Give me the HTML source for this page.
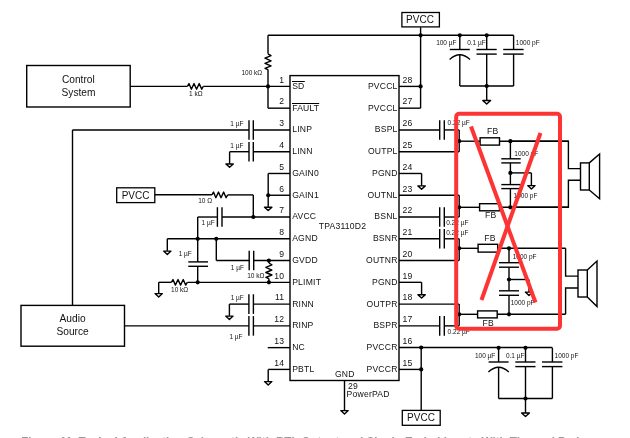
<!DOCTYPE html>
<html><head><meta charset="utf-8"><title>TPA3110D2 schematic</title>
<style>
html,body{margin:0;padding:0;background:#fff;}
body{width:630px;height:438px;overflow:hidden;}
svg{display:block;font-family:"Liberation Sans",sans-serif;will-change:transform;}
</style></head><body>
<svg width="630" height="438" viewBox="0 0 630 438">
<rect x="0" y="0" width="630" height="438" fill="#fff"/>
<rect x="290" y="75.6" width="109" height="304.9" fill="none" stroke="#000" stroke-width="1.4"/>
<text x="292.2" y="88.8" font-size="8.6" text-anchor="start" fill="#111"  letter-spacing="0.2"><tspan>SD</tspan></text>
<text x="284.3" y="82.7" font-size="8.6" text-anchor="end" fill="#111"  letter-spacing="0.2">1</text>
<text x="292.2" y="110.57" font-size="8.6" text-anchor="start" fill="#111"  letter-spacing="0.2">FAULT</text>
<text x="284.3" y="104.47" font-size="8.6" text-anchor="end" fill="#111"  letter-spacing="0.2">2</text>
<text x="292.2" y="132.34" font-size="8.6" text-anchor="start" fill="#111"  letter-spacing="0.2">LINP</text>
<text x="284.3" y="126.24" font-size="8.6" text-anchor="end" fill="#111"  letter-spacing="0.2">3</text>
<text x="292.2" y="154.11" font-size="8.6" text-anchor="start" fill="#111"  letter-spacing="0.2">LINN</text>
<text x="284.3" y="148.01" font-size="8.6" text-anchor="end" fill="#111"  letter-spacing="0.2">4</text>
<text x="292.2" y="175.88" font-size="8.6" text-anchor="start" fill="#111"  letter-spacing="0.2">GAIN0</text>
<text x="284.3" y="169.78" font-size="8.6" text-anchor="end" fill="#111"  letter-spacing="0.2">5</text>
<text x="292.2" y="197.65" font-size="8.6" text-anchor="start" fill="#111"  letter-spacing="0.2">GAIN1</text>
<text x="284.3" y="191.55" font-size="8.6" text-anchor="end" fill="#111"  letter-spacing="0.2">6</text>
<text x="292.2" y="219.42" font-size="8.6" text-anchor="start" fill="#111"  letter-spacing="0.2">AVCC</text>
<text x="284.3" y="213.32" font-size="8.6" text-anchor="end" fill="#111"  letter-spacing="0.2">7</text>
<text x="292.2" y="241.19" font-size="8.6" text-anchor="start" fill="#111"  letter-spacing="0.2">AGND</text>
<text x="284.3" y="235.09" font-size="8.6" text-anchor="end" fill="#111"  letter-spacing="0.2">8</text>
<text x="292.2" y="262.96" font-size="8.6" text-anchor="start" fill="#111"  letter-spacing="0.2">GVDD</text>
<text x="284.3" y="256.86" font-size="8.6" text-anchor="end" fill="#111"  letter-spacing="0.2">9</text>
<text x="292.2" y="284.73" font-size="8.6" text-anchor="start" fill="#111"  letter-spacing="0.2">PLIMIT</text>
<text x="284.3" y="278.63" font-size="8.6" text-anchor="end" fill="#111"  letter-spacing="0.2">10</text>
<text x="292.2" y="306.5" font-size="8.6" text-anchor="start" fill="#111"  letter-spacing="0.2">RINN</text>
<text x="284.3" y="300.4" font-size="8.6" text-anchor="end" fill="#111"  letter-spacing="0.2">11</text>
<text x="292.2" y="328.27" font-size="8.6" text-anchor="start" fill="#111"  letter-spacing="0.2">RINP</text>
<text x="284.3" y="322.17" font-size="8.6" text-anchor="end" fill="#111"  letter-spacing="0.2">12</text>
<text x="292.2" y="350.04" font-size="8.6" text-anchor="start" fill="#111"  letter-spacing="0.2">NC</text>
<text x="284.3" y="343.94" font-size="8.6" text-anchor="end" fill="#111"  letter-spacing="0.2">13</text>
<text x="292.2" y="371.81" font-size="8.6" text-anchor="start" fill="#111"  letter-spacing="0.2">PBTL</text>
<text x="284.3" y="365.71" font-size="8.6" text-anchor="end" fill="#111"  letter-spacing="0.2">14</text>
<text x="397.6" y="88.8" font-size="8.6" text-anchor="end" fill="#111"  letter-spacing="0.2">PVCCL</text>
<text x="402.6" y="82.7" font-size="8.6" text-anchor="start" fill="#111"  letter-spacing="0.2">28</text>
<text x="397.6" y="110.57" font-size="8.6" text-anchor="end" fill="#111"  letter-spacing="0.2">PVCCL</text>
<text x="402.6" y="104.47" font-size="8.6" text-anchor="start" fill="#111"  letter-spacing="0.2">27</text>
<text x="397.6" y="132.34" font-size="8.6" text-anchor="end" fill="#111"  letter-spacing="0.2">BSPL</text>
<text x="402.6" y="126.24" font-size="8.6" text-anchor="start" fill="#111"  letter-spacing="0.2">26</text>
<text x="397.6" y="154.11" font-size="8.6" text-anchor="end" fill="#111"  letter-spacing="0.2">OUTPL</text>
<text x="402.6" y="148.01" font-size="8.6" text-anchor="start" fill="#111"  letter-spacing="0.2">25</text>
<text x="397.6" y="175.88" font-size="8.6" text-anchor="end" fill="#111"  letter-spacing="0.2">PGND</text>
<text x="402.6" y="169.78" font-size="8.6" text-anchor="start" fill="#111"  letter-spacing="0.2">24</text>
<text x="397.6" y="197.65" font-size="8.6" text-anchor="end" fill="#111"  letter-spacing="0.2">OUTNL</text>
<text x="402.6" y="191.55" font-size="8.6" text-anchor="start" fill="#111"  letter-spacing="0.2">23</text>
<text x="397.6" y="219.42" font-size="8.6" text-anchor="end" fill="#111"  letter-spacing="0.2">BSNL</text>
<text x="402.6" y="213.32" font-size="8.6" text-anchor="start" fill="#111"  letter-spacing="0.2">22</text>
<text x="397.6" y="241.19" font-size="8.6" text-anchor="end" fill="#111"  letter-spacing="0.2">BSNR</text>
<text x="402.6" y="235.09" font-size="8.6" text-anchor="start" fill="#111"  letter-spacing="0.2">21</text>
<text x="397.6" y="262.96" font-size="8.6" text-anchor="end" fill="#111"  letter-spacing="0.2">OUTNR</text>
<text x="402.6" y="256.86" font-size="8.6" text-anchor="start" fill="#111"  letter-spacing="0.2">20</text>
<text x="397.6" y="284.73" font-size="8.6" text-anchor="end" fill="#111"  letter-spacing="0.2">PGND</text>
<text x="402.6" y="278.63" font-size="8.6" text-anchor="start" fill="#111"  letter-spacing="0.2">19</text>
<text x="397.6" y="306.5" font-size="8.6" text-anchor="end" fill="#111"  letter-spacing="0.2">OUTPR</text>
<text x="402.6" y="300.4" font-size="8.6" text-anchor="start" fill="#111"  letter-spacing="0.2">18</text>
<text x="397.6" y="328.27" font-size="8.6" text-anchor="end" fill="#111"  letter-spacing="0.2">BSPR</text>
<text x="402.6" y="322.17" font-size="8.6" text-anchor="start" fill="#111"  letter-spacing="0.2">17</text>
<text x="397.6" y="350.04" font-size="8.6" text-anchor="end" fill="#111"  letter-spacing="0.2">PVCCR</text>
<text x="402.6" y="343.94" font-size="8.6" text-anchor="start" fill="#111"  letter-spacing="0.2">16</text>
<text x="397.6" y="371.81" font-size="8.6" text-anchor="end" fill="#111"  letter-spacing="0.2">PVCCR</text>
<text x="402.6" y="365.71" font-size="8.6" text-anchor="start" fill="#111"  letter-spacing="0.2">15</text>
<line x1="292" y1="81.5" x2="304.8" y2="81.5" stroke="#000" stroke-width="1.0"/>
<line x1="292" y1="103.5" x2="319.2" y2="103.5" stroke="#000" stroke-width="1.0"/>
<text x="342.5" y="229.2" font-size="8.6" text-anchor="middle" fill="#111"  letter-spacing="0.2">TPA3110D2</text>
<text x="344.8" y="377" font-size="8.6" text-anchor="middle" fill="#111"  letter-spacing="0.2">GND</text>
<text x="348" y="389.2" font-size="8.6" text-anchor="start" fill="#111"  letter-spacing="0.2">29</text>
<text x="346.6" y="397.3" font-size="8.6" text-anchor="start" fill="#111"  letter-spacing="0.2">PowerPAD</text>
<rect x="26.7" y="65.5" width="103.5" height="41.5" fill="none" stroke="#000" stroke-width="1.4"/>
<text x="78.3" y="82.9" font-size="10.2" text-anchor="middle" fill="#111" >Control</text>
<text x="78.5" y="96.4" font-size="10.2" text-anchor="middle" fill="#111" >System</text>
<rect x="21" y="305.4" width="103.5" height="40.8" fill="none" stroke="#000" stroke-width="1.4"/>
<text x="72.6" y="321.8" font-size="10.2" text-anchor="middle" fill="#111" >Audio</text>
<text x="72.6" y="334.6" font-size="10.2" text-anchor="middle" fill="#111" >Source</text>
<rect x="401.9" y="12.5" width="37.5" height="14.4" fill="none" stroke="#000" stroke-width="1.3"/>
<text x="420" y="23" font-size="10.0" text-anchor="middle" fill="#111" >PVCC</text>
<rect x="116.7" y="187.8" width="38.1" height="14.8" fill="none" stroke="#000" stroke-width="1.3"/>
<text x="135.6" y="199.1" font-size="10.0" text-anchor="middle" fill="#111" >PVCC</text>
<rect x="402.3" y="410.4" width="37.9" height="14.9" fill="none" stroke="#000" stroke-width="1.3"/>
<text x="421" y="420.9" font-size="10.0" text-anchor="middle" fill="#111" >PVCC</text>
<line x1="130.3" y1="86.4" x2="187.4" y2="86.4" stroke="#000" stroke-width="1.4"/>
<polyline points="187.4,86.4 188.99,83.6 191.38,89.2 194.01,83.6 196.56,89.2 199.21,83.6 201.71,89.2 203.3,86.4" fill="none" stroke="#000" stroke-width="1.4" stroke-linejoin="round"/>
<line x1="203.3" y1="86.4" x2="290" y2="86.4" stroke="#000" stroke-width="1.4"/>
<text x="195.8" y="95.6" font-size="6.5" text-anchor="middle" fill="#111" >1 kΩ</text>
<circle cx="268" cy="86.4" r="2.1" fill="#000"/>
<line x1="268" y1="35.3" x2="268" y2="53.8" stroke="#000" stroke-width="1.4"/>
<polyline points="268,53.8 271,55.7 265,58.22 271,60.91 265,63.44 271,65.97 265,68.34 268,69.6" fill="none" stroke="#000" stroke-width="1.4" stroke-linejoin="round"/>
<line x1="268" y1="69.6" x2="268" y2="108.17" stroke="#000" stroke-width="1.4"/>
<text x="262.2" y="75.2" font-size="6.5" text-anchor="end" fill="#111" >100 kΩ</text>
<line x1="268" y1="108.17" x2="290" y2="108.17" stroke="#000" stroke-width="1.4"/>
<line x1="268" y1="35.3" x2="513.6" y2="35.3" stroke="#000" stroke-width="1.4"/>
<line x1="72.5" y1="129.94" x2="249" y2="129.94" stroke="#000" stroke-width="1.4"/>
<line x1="249" y1="120.14" x2="249" y2="139.74" stroke="#000" stroke-width="1.4"/>
<line x1="253.3" y1="120.14" x2="253.3" y2="139.74" stroke="#000" stroke-width="1.4"/>
<line x1="253.3" y1="129.94" x2="290" y2="129.94" stroke="#000" stroke-width="1.4"/>
<line x1="72.5" y1="129.94" x2="72.5" y2="305.4" stroke="#000" stroke-width="1.4"/>
<text x="230.3" y="125.8" font-size="6.5" text-anchor="start" fill="#111" >1 µF</text>
<line x1="229.6" y1="151.71" x2="249" y2="151.71" stroke="#000" stroke-width="1.4"/>
<line x1="249" y1="141.91" x2="249" y2="161.51" stroke="#000" stroke-width="1.4"/>
<line x1="253.3" y1="141.91" x2="253.3" y2="161.51" stroke="#000" stroke-width="1.4"/>
<line x1="253.3" y1="151.71" x2="290" y2="151.71" stroke="#000" stroke-width="1.4"/>
<line x1="229.6" y1="151.71" x2="229.6" y2="163.4" stroke="#000" stroke-width="1.4"/>
<line x1="229.6" y1="163.2" x2="229.6" y2="164" stroke="#000" stroke-width="1.4"/>
<polygon points="225.9,164 233.3,164 229.6,167.3" fill="none" stroke="#000" stroke-width="1.4" stroke-linejoin="round"/>
<text x="230.3" y="147.6" font-size="6.5" text-anchor="start" fill="#111" >1 µF</text>
<line x1="268.2" y1="173.48" x2="290" y2="173.48" stroke="#000" stroke-width="1.4"/>
<line x1="268.2" y1="195.25" x2="290" y2="195.25" stroke="#000" stroke-width="1.4"/>
<line x1="268.2" y1="173.48" x2="268.2" y2="206.6" stroke="#000" stroke-width="1.4"/>
<circle cx="268.2" cy="195.25" r="2.1" fill="#000"/>
<line x1="268.2" y1="206.4" x2="268.2" y2="207.2" stroke="#000" stroke-width="1.4"/>
<polygon points="264.5,207.2 271.9,207.2 268.2,210.5" fill="none" stroke="#000" stroke-width="1.4" stroke-linejoin="round"/>
<line x1="154.8" y1="194.8" x2="211.9" y2="194.8" stroke="#000" stroke-width="1.4"/>
<polyline points="211.9,194.9 213.48,192.1 215.85,197.7 218.47,192.1 221,197.7 223.64,192.1 226.12,197.7 227.7,194.9" fill="none" stroke="#000" stroke-width="1.4" stroke-linejoin="round"/>
<line x1="227.7" y1="194.9" x2="253.3" y2="194.9" stroke="#000" stroke-width="1.4"/>
<line x1="253.3" y1="194.9" x2="253.3" y2="217.02" stroke="#000" stroke-width="1.4"/>
<text x="198.2" y="202.8" font-size="6.5" text-anchor="start" fill="#111" >10 Ω</text>
<line x1="197.7" y1="217.02" x2="217.4" y2="217.02" stroke="#000" stroke-width="1.4"/>
<line x1="217.4" y1="207.22" x2="217.4" y2="226.82" stroke="#000" stroke-width="1.4"/>
<line x1="222" y1="207.22" x2="222" y2="226.82" stroke="#000" stroke-width="1.4"/>
<line x1="222" y1="217.02" x2="290" y2="217.02" stroke="#000" stroke-width="1.4"/>
<circle cx="253.3" cy="217.02" r="2.1" fill="#000"/>
<text x="201.6" y="225" font-size="6.5" text-anchor="start" fill="#111" >1 µF</text>
<line x1="197.7" y1="217.02" x2="197.7" y2="238.79" stroke="#000" stroke-width="1.4"/>
<line x1="167.3" y1="238.79" x2="290" y2="238.79" stroke="#000" stroke-width="1.4"/>
<line x1="167.3" y1="238.79" x2="167.3" y2="250.5" stroke="#000" stroke-width="1.4"/>
<line x1="167.3" y1="250.3" x2="167.3" y2="251.1" stroke="#000" stroke-width="1.4"/>
<polygon points="163.6,251.1 171,251.1 167.3,254.4" fill="none" stroke="#000" stroke-width="1.4" stroke-linejoin="round"/>
<circle cx="197.7" cy="238.79" r="2.1" fill="#000"/>
<circle cx="216.3" cy="238.79" r="2.1" fill="#000"/>
<line x1="197.7" y1="238.79" x2="197.7" y2="261.9" stroke="#000" stroke-width="1.4"/>
<line x1="188.3" y1="261.9" x2="208" y2="261.9" stroke="#000" stroke-width="1.4"/>
<line x1="188.3" y1="266.3" x2="208" y2="266.3" stroke="#000" stroke-width="1.4"/>
<line x1="197.7" y1="266.3" x2="197.7" y2="282.33" stroke="#000" stroke-width="1.4"/>
<circle cx="197.7" cy="282.33" r="2.1" fill="#000"/>
<text x="178.7" y="256.2" font-size="6.5" text-anchor="start" fill="#111" >1 µF</text>
<line x1="216.3" y1="238.79" x2="216.3" y2="260.56" stroke="#000" stroke-width="1.4"/>
<line x1="216.3" y1="260.56" x2="249.2" y2="260.56" stroke="#000" stroke-width="1.4"/>
<line x1="249.2" y1="250.76" x2="249.2" y2="270.36" stroke="#000" stroke-width="1.4"/>
<line x1="253.7" y1="250.76" x2="253.7" y2="270.36" stroke="#000" stroke-width="1.4"/>
<line x1="253.7" y1="260.56" x2="290" y2="260.56" stroke="#000" stroke-width="1.4"/>
<circle cx="268.9" cy="260.56" r="2.1" fill="#000"/>
<text x="230.8" y="269.6" font-size="6.5" text-anchor="start" fill="#111" >1 µF</text>
<polyline points="268.9,263 271.9,264.87 265.9,267.37 271.9,270.02 265.9,272.52 271.9,275.01 265.9,277.35 268.9,278.6" fill="none" stroke="#000" stroke-width="1.4" stroke-linejoin="round"/>
<line x1="268.9" y1="260.56" x2="268.9" y2="263" stroke="#000" stroke-width="1.4"/>
<line x1="268.9" y1="278.6" x2="268.9" y2="282.33" stroke="#000" stroke-width="1.4"/>
<circle cx="268.9" cy="282.33" r="2.1" fill="#000"/>
<text x="264.4" y="277.7" font-size="6.5" text-anchor="end" fill="#111" >10 kΩ</text>
<line x1="158.7" y1="282.33" x2="171.4" y2="282.33" stroke="#000" stroke-width="1.4"/>
<polyline points="171.4,282.33 172.99,279.53 175.38,285.13 178.01,279.53 180.56,285.13 183.21,279.53 185.71,285.13 187.3,282.33" fill="none" stroke="#000" stroke-width="1.4" stroke-linejoin="round"/>
<line x1="187.3" y1="282.33" x2="290" y2="282.33" stroke="#000" stroke-width="1.4"/>
<line x1="158.7" y1="282.33" x2="158.7" y2="293" stroke="#000" stroke-width="1.4"/>
<line x1="158.7" y1="292.8" x2="158.7" y2="293.6" stroke="#000" stroke-width="1.4"/>
<polygon points="155,293.6 162.4,293.6 158.7,296.9" fill="none" stroke="#000" stroke-width="1.4" stroke-linejoin="round"/>
<text x="179.6" y="291.9" font-size="6.5" text-anchor="middle" fill="#111" >10 kΩ</text>
<line x1="229.4" y1="304.1" x2="248.9" y2="304.1" stroke="#000" stroke-width="1.4"/>
<line x1="248.9" y1="294.3" x2="248.9" y2="313.9" stroke="#000" stroke-width="1.4"/>
<line x1="253.4" y1="294.3" x2="253.4" y2="313.9" stroke="#000" stroke-width="1.4"/>
<line x1="253.4" y1="304.1" x2="290" y2="304.1" stroke="#000" stroke-width="1.4"/>
<line x1="229.4" y1="304.1" x2="229.4" y2="315.5" stroke="#000" stroke-width="1.4"/>
<line x1="229.4" y1="315.3" x2="229.4" y2="316.1" stroke="#000" stroke-width="1.4"/>
<polygon points="225.7,316.1 233.1,316.1 229.4,319.4" fill="none" stroke="#000" stroke-width="1.4" stroke-linejoin="round"/>
<text x="230.7" y="299.9" font-size="6.5" text-anchor="start" fill="#111" >1 µF</text>
<line x1="124.4" y1="325.87" x2="248.9" y2="325.87" stroke="#000" stroke-width="1.4"/>
<line x1="248.9" y1="316.07" x2="248.9" y2="335.67" stroke="#000" stroke-width="1.4"/>
<line x1="253.4" y1="316.07" x2="253.4" y2="335.67" stroke="#000" stroke-width="1.4"/>
<line x1="253.4" y1="325.87" x2="290" y2="325.87" stroke="#000" stroke-width="1.4"/>
<text x="229.4" y="339.2" font-size="6.5" text-anchor="start" fill="#111" >1 µF</text>
<line x1="267.7" y1="347.64" x2="290" y2="347.64" stroke="#000" stroke-width="1.4"/>
<line x1="268.2" y1="369.41" x2="290" y2="369.41" stroke="#000" stroke-width="1.4"/>
<line x1="268.2" y1="369.41" x2="268.2" y2="381" stroke="#000" stroke-width="1.4"/>
<line x1="268.2" y1="380.8" x2="268.2" y2="381.6" stroke="#000" stroke-width="1.4"/>
<polygon points="264.5,381.6 271.9,381.6 268.2,384.9" fill="none" stroke="#000" stroke-width="1.4" stroke-linejoin="round"/>
<line x1="344.5" y1="380.5" x2="344.5" y2="410" stroke="#000" stroke-width="1.4"/>
<line x1="344.5" y1="409.8" x2="344.5" y2="410.6" stroke="#000" stroke-width="1.4"/>
<polygon points="340.8,410.6 348.2,410.6 344.5,413.9" fill="none" stroke="#000" stroke-width="1.4" stroke-linejoin="round"/>
<line x1="420.6" y1="27.2" x2="420.6" y2="108.17" stroke="#000" stroke-width="1.4"/>
<circle cx="420.6" cy="35.3" r="2.1" fill="#000"/>
<line x1="399" y1="86.4" x2="420.6" y2="86.4" stroke="#000" stroke-width="1.4"/>
<circle cx="420.6" cy="86.4" r="2.1" fill="#000"/>
<line x1="399" y1="108.17" x2="420.6" y2="108.17" stroke="#000" stroke-width="1.4"/>
<circle cx="459.8" cy="35.3" r="2.1" fill="#000"/>
<circle cx="486.7" cy="35.3" r="2.1" fill="#000"/>
<line x1="459.8" y1="35.3" x2="459.8" y2="49.5" stroke="#000" stroke-width="1.4"/>
<line x1="449.8" y1="49.5" x2="469.8" y2="49.5" stroke="#000" stroke-width="1.4"/>
<path d="M449.6,59.6 Q459.8,50 470,59.6" fill="none" stroke="#000" stroke-width="1.35"/>
<line x1="459.8" y1="54.9" x2="459.8" y2="86" stroke="#000" stroke-width="1.4"/>
<line x1="486.7" y1="35.3" x2="486.7" y2="49.5" stroke="#000" stroke-width="1.4"/>
<line x1="476.5" y1="49.5" x2="496.7" y2="49.5" stroke="#000" stroke-width="1.4"/>
<line x1="476.5" y1="54.1" x2="496.7" y2="54.1" stroke="#000" stroke-width="1.4"/>
<line x1="486.7" y1="54.1" x2="486.7" y2="86" stroke="#000" stroke-width="1.4"/>
<line x1="513.6" y1="35.3" x2="513.6" y2="49.5" stroke="#000" stroke-width="1.4"/>
<line x1="503.2" y1="49.5" x2="523.6" y2="49.5" stroke="#000" stroke-width="1.4"/>
<line x1="503.2" y1="54.1" x2="523.6" y2="54.1" stroke="#000" stroke-width="1.4"/>
<line x1="513.6" y1="54.1" x2="513.6" y2="86" stroke="#000" stroke-width="1.4"/>
<line x1="459.8" y1="86" x2="513.6" y2="86" stroke="#000" stroke-width="1.4"/>
<circle cx="486.7" cy="86" r="2.1" fill="#000"/>
<line x1="486.7" y1="86" x2="486.7" y2="99.9" stroke="#000" stroke-width="1.4"/>
<line x1="486.7" y1="99.7" x2="486.7" y2="100.5" stroke="#000" stroke-width="1.4"/>
<polygon points="482.8,100.5 490.6,100.5 486.7,104.1" fill="none" stroke="#000" stroke-width="1.4" stroke-linejoin="round"/>
<text x="456.5" y="44.9" font-size="6.5" text-anchor="end" fill="#111" >100 µF</text>
<text x="485.7" y="44.9" font-size="6.5" text-anchor="end" fill="#111" >0.1 µF</text>
<text x="515.8" y="44.9" font-size="6.5" text-anchor="start" fill="#111" >1000 pF</text>
<circle cx="498.6" cy="347.8" r="2.1" fill="#000"/>
<circle cx="525.5" cy="347.8" r="2.1" fill="#000"/>
<line x1="498.6" y1="347.8" x2="498.6" y2="362" stroke="#000" stroke-width="1.4"/>
<line x1="488.6" y1="362" x2="508.6" y2="362" stroke="#000" stroke-width="1.4"/>
<path d="M488.4,372.1 Q498.6,362.5 508.8,372.1" fill="none" stroke="#000" stroke-width="1.35"/>
<line x1="498.6" y1="367.4" x2="498.6" y2="398.5" stroke="#000" stroke-width="1.4"/>
<line x1="525.5" y1="347.8" x2="525.5" y2="362" stroke="#000" stroke-width="1.4"/>
<line x1="515.3" y1="362" x2="535.5" y2="362" stroke="#000" stroke-width="1.4"/>
<line x1="515.3" y1="366.6" x2="535.5" y2="366.6" stroke="#000" stroke-width="1.4"/>
<line x1="525.5" y1="366.6" x2="525.5" y2="398.5" stroke="#000" stroke-width="1.4"/>
<line x1="552.4" y1="347.8" x2="552.4" y2="362" stroke="#000" stroke-width="1.4"/>
<line x1="542" y1="362" x2="562.4" y2="362" stroke="#000" stroke-width="1.4"/>
<line x1="542" y1="366.6" x2="562.4" y2="366.6" stroke="#000" stroke-width="1.4"/>
<line x1="552.4" y1="366.6" x2="552.4" y2="398.5" stroke="#000" stroke-width="1.4"/>
<line x1="498.6" y1="398.5" x2="552.4" y2="398.5" stroke="#000" stroke-width="1.4"/>
<circle cx="525.5" cy="398.5" r="2.1" fill="#000"/>
<line x1="525.5" y1="398.5" x2="525.5" y2="412.4" stroke="#000" stroke-width="1.4"/>
<line x1="525.5" y1="412.2" x2="525.5" y2="413" stroke="#000" stroke-width="1.4"/>
<polygon points="521.6,413 529.4,413 525.5,416.6" fill="none" stroke="#000" stroke-width="1.4" stroke-linejoin="round"/>
<text x="495.3" y="358" font-size="6.5" text-anchor="end" fill="#111" >100 µF</text>
<text x="524.5" y="358" font-size="6.5" text-anchor="end" fill="#111" >0.1 µF</text>
<text x="554.6" y="358" font-size="6.5" text-anchor="start" fill="#111" >1000 pF</text>
<line x1="399" y1="347.5" x2="552.4" y2="347.5" stroke="#000" stroke-width="1.4"/>
<line x1="399" y1="369.41" x2="421.2" y2="369.41" stroke="#000" stroke-width="1.4"/>
<circle cx="421.2" cy="347.5" r="2.1" fill="#000"/>
<circle cx="421.2" cy="369.41" r="2.1" fill="#000"/>
<line x1="421.2" y1="347.5" x2="421.2" y2="410.5" stroke="#000" stroke-width="1.4"/>
<line x1="399" y1="173.48" x2="421.6" y2="173.48" stroke="#000" stroke-width="1.4"/>
<line x1="421.6" y1="173.48" x2="421.6" y2="185.28" stroke="#000" stroke-width="1.4"/>
<line x1="421.6" y1="185.08" x2="421.6" y2="185.88" stroke="#000" stroke-width="1.4"/>
<polygon points="417.9,185.88 425.3,185.88 421.6,189.18" fill="none" stroke="#000" stroke-width="1.4" stroke-linejoin="round"/>
<line x1="399" y1="282.33" x2="421.6" y2="282.33" stroke="#000" stroke-width="1.4"/>
<line x1="421.6" y1="282.33" x2="421.6" y2="294.13" stroke="#000" stroke-width="1.4"/>
<line x1="421.6" y1="293.93" x2="421.6" y2="294.73" stroke="#000" stroke-width="1.4"/>
<polygon points="417.9,294.73 425.3,294.73 421.6,298.03" fill="none" stroke="#000" stroke-width="1.4" stroke-linejoin="round"/>
<line x1="399" y1="129.94" x2="439.7" y2="129.94" stroke="#000" stroke-width="1.4"/>
<line x1="439.7" y1="120.14" x2="439.7" y2="139.74" stroke="#000" stroke-width="1.4"/>
<line x1="444.3" y1="120.14" x2="444.3" y2="139.74" stroke="#000" stroke-width="1.4"/>
<line x1="444.3" y1="129.94" x2="459.2" y2="129.94" stroke="#000" stroke-width="1.4"/>
<text x="447.6" y="125.2" font-size="6.5" text-anchor="start" fill="#111" >0.22 µF</text>
<line x1="399" y1="151.71" x2="459.2" y2="151.71" stroke="#000" stroke-width="1.4"/>
<line x1="459.2" y1="129.94" x2="459.2" y2="151.71" stroke="#000" stroke-width="1.4"/>
<circle cx="459.2" cy="141.2" r="2.1" fill="#000"/>
<line x1="459.2" y1="141.2" x2="480.1" y2="141.2" stroke="#000" stroke-width="1.4"/>
<rect x="480.1" y="137.8" width="19.4" height="7.3" fill="none" stroke="#000" stroke-width="1.4"/>
<line x1="499.5" y1="141.2" x2="568.4" y2="141.2" stroke="#000" stroke-width="1.4"/>
<text x="492.8" y="133.8" font-size="8.6" text-anchor="middle" fill="#111"  letter-spacing="0.2">FB</text>
<line x1="399" y1="195.25" x2="459.2" y2="195.25" stroke="#000" stroke-width="1.4"/>
<line x1="399" y1="217.02" x2="439.7" y2="217.02" stroke="#000" stroke-width="1.4"/>
<line x1="439.7" y1="207.22" x2="439.7" y2="226.82" stroke="#000" stroke-width="1.4"/>
<line x1="444.3" y1="207.22" x2="444.3" y2="226.82" stroke="#000" stroke-width="1.4"/>
<line x1="444.3" y1="217.02" x2="459.2" y2="217.02" stroke="#000" stroke-width="1.4"/>
<text x="446.2" y="224.9" font-size="6.5" text-anchor="start" fill="#111" >0.22 µF</text>
<line x1="459.2" y1="195.25" x2="459.2" y2="217.02" stroke="#000" stroke-width="1.4"/>
<circle cx="459.2" cy="207.3" r="2.1" fill="#000"/>
<line x1="459.2" y1="207.3" x2="479.6" y2="207.3" stroke="#000" stroke-width="1.4"/>
<rect x="479.6" y="203.7" width="19.9" height="7.1" fill="none" stroke="#000" stroke-width="1.4"/>
<line x1="499.5" y1="207.3" x2="568.4" y2="207.3" stroke="#000" stroke-width="1.4"/>
<text x="490.8" y="218.3" font-size="8.6" text-anchor="middle" fill="#111"  letter-spacing="0.2">FB</text>
<circle cx="510.4" cy="141.2" r="2.1" fill="#000"/>
<circle cx="510.4" cy="207.3" r="2.1" fill="#000"/>
<line x1="510.4" y1="141.2" x2="510.4" y2="158.8" stroke="#000" stroke-width="1.4"/>
<line x1="501.3" y1="158.8" x2="520.7" y2="158.8" stroke="#000" stroke-width="1.4"/>
<line x1="501.3" y1="162.9" x2="520.7" y2="162.9" stroke="#000" stroke-width="1.4"/>
<line x1="510.4" y1="162.9" x2="510.4" y2="184.6" stroke="#000" stroke-width="1.4"/>
<line x1="501.3" y1="184.6" x2="520.7" y2="184.6" stroke="#000" stroke-width="1.4"/>
<line x1="501.3" y1="188.6" x2="520.7" y2="188.6" stroke="#000" stroke-width="1.4"/>
<line x1="510.4" y1="188.6" x2="510.4" y2="207.3" stroke="#000" stroke-width="1.4"/>
<circle cx="510.4" cy="172.9" r="2.1" fill="#000"/>
<line x1="510.4" y1="172.9" x2="531.4" y2="172.9" stroke="#000" stroke-width="1.4"/>
<line x1="531.4" y1="172.9" x2="531.4" y2="185" stroke="#000" stroke-width="1.4"/>
<line x1="531.4" y1="184.8" x2="531.4" y2="185.6" stroke="#000" stroke-width="1.4"/>
<polygon points="527.7,185.6 535.1,185.6 531.4,188.9" fill="none" stroke="#000" stroke-width="1.4" stroke-linejoin="round"/>
<text x="514.3" y="156" font-size="6.5" text-anchor="start" fill="#111" >1000 pF</text>
<text x="513.6" y="197.6" font-size="6.5" text-anchor="start" fill="#111" >1000 pF</text>
<polyline points="510.4,141.2 568.4,141.2 568.4,168.6 580.5,168.6" fill="none" stroke="#000" stroke-width="1.4" stroke-linejoin="miter"/>
<polyline points="510.4,207.3 568.4,207.3 568.4,180.3 580.5,180.3" fill="none" stroke="#000" stroke-width="1.4" stroke-linejoin="miter"/>
<rect x="580.5" y="162.9" width="8.8" height="27.1" fill="none" stroke="#000" stroke-width="1.4"/>
<polyline points="589.3,162.9 599.6,154 599.6,198.8 589.3,190" fill="none" stroke="#000" stroke-width="1.4" stroke-linejoin="miter"/>
<line x1="399" y1="238.79" x2="439.7" y2="238.79" stroke="#000" stroke-width="1.4"/>
<line x1="439.7" y1="228.99" x2="439.7" y2="248.59" stroke="#000" stroke-width="1.4"/>
<line x1="444.3" y1="228.99" x2="444.3" y2="248.59" stroke="#000" stroke-width="1.4"/>
<line x1="444.3" y1="238.79" x2="459.2" y2="238.79" stroke="#000" stroke-width="1.4"/>
<text x="446.2" y="234.8" font-size="6.5" text-anchor="start" fill="#111" >0.22 µF</text>
<line x1="399" y1="260.56" x2="459.2" y2="260.56" stroke="#000" stroke-width="1.4"/>
<line x1="459.2" y1="238.79" x2="459.2" y2="260.56" stroke="#000" stroke-width="1.4"/>
<circle cx="459.2" cy="248.3" r="2.1" fill="#000"/>
<line x1="459.2" y1="248.3" x2="478.1" y2="248.3" stroke="#000" stroke-width="1.4"/>
<rect x="478.1" y="244.3" width="19.6" height="7.8" fill="none" stroke="#000" stroke-width="1.4"/>
<line x1="497.7" y1="248.3" x2="565.6" y2="248.3" stroke="#000" stroke-width="1.4"/>
<text x="490" y="241.3" font-size="8.6" text-anchor="middle" fill="#111"  letter-spacing="0.2">FB</text>
<line x1="399" y1="304.1" x2="459.2" y2="304.1" stroke="#000" stroke-width="1.4"/>
<line x1="399" y1="325.87" x2="439.7" y2="325.87" stroke="#000" stroke-width="1.4"/>
<line x1="439.7" y1="316.07" x2="439.7" y2="335.67" stroke="#000" stroke-width="1.4"/>
<line x1="444.3" y1="316.07" x2="444.3" y2="335.67" stroke="#000" stroke-width="1.4"/>
<line x1="444.3" y1="325.87" x2="459.2" y2="325.87" stroke="#000" stroke-width="1.4"/>
<text x="447.6" y="333.5" font-size="6.5" text-anchor="start" fill="#111" >0.22 µF</text>
<line x1="459.2" y1="304.1" x2="459.2" y2="325.87" stroke="#000" stroke-width="1.4"/>
<circle cx="459.2" cy="314.3" r="2.1" fill="#000"/>
<line x1="459.2" y1="314.3" x2="477.6" y2="314.3" stroke="#000" stroke-width="1.4"/>
<rect x="477.6" y="310.9" width="19.6" height="7" fill="none" stroke="#000" stroke-width="1.4"/>
<line x1="497.2" y1="314.3" x2="565.6" y2="314.3" stroke="#000" stroke-width="1.4"/>
<text x="488.2" y="325.6" font-size="8.6" text-anchor="middle" fill="#111"  letter-spacing="0.2">FB</text>
<circle cx="509" cy="248.3" r="2.1" fill="#000"/>
<circle cx="509" cy="314.3" r="2.1" fill="#000"/>
<line x1="509" y1="248.3" x2="509" y2="262.7" stroke="#000" stroke-width="1.4"/>
<line x1="499" y1="262.7" x2="519" y2="262.7" stroke="#000" stroke-width="1.4"/>
<line x1="499" y1="267.2" x2="519" y2="267.2" stroke="#000" stroke-width="1.4"/>
<line x1="509" y1="267.2" x2="509" y2="290.8" stroke="#000" stroke-width="1.4"/>
<line x1="499" y1="290.8" x2="519" y2="290.8" stroke="#000" stroke-width="1.4"/>
<line x1="499" y1="295.3" x2="519" y2="295.3" stroke="#000" stroke-width="1.4"/>
<line x1="509" y1="295.3" x2="509" y2="314.3" stroke="#000" stroke-width="1.4"/>
<circle cx="509" cy="279.5" r="2.1" fill="#000"/>
<line x1="509" y1="279.5" x2="529" y2="279.5" stroke="#000" stroke-width="1.4"/>
<line x1="529" y1="279.5" x2="529" y2="291.5" stroke="#000" stroke-width="1.4"/>
<line x1="529" y1="291.3" x2="529" y2="292.1" stroke="#000" stroke-width="1.4"/>
<polygon points="525.3,292.1 532.7,292.1 529,295.4" fill="none" stroke="#000" stroke-width="1.4" stroke-linejoin="round"/>
<text x="512.7" y="258.9" font-size="6.5" text-anchor="start" fill="#111" >1000 pF</text>
<text x="510.7" y="304.6" font-size="6.5" text-anchor="start" fill="#111" >1000 pF</text>
<polyline points="565.6,248.3 565.6,276.1 578,276.1" fill="none" stroke="#000" stroke-width="1.4" stroke-linejoin="miter"/>
<polyline points="565.6,314.3 565.6,288 578,288" fill="none" stroke="#000" stroke-width="1.4" stroke-linejoin="miter"/>
<rect x="578" y="270" width="9.3" height="27" fill="none" stroke="#000" stroke-width="1.4"/>
<polyline points="587.3,270 597,261.1 597,306.5 587.3,297" fill="none" stroke="#000" stroke-width="1.4" stroke-linejoin="miter"/>
<rect x="456.2" y="113.8" width="103.8" height="214.9" rx="3" fill="none" stroke="#fc3434" stroke-width="4"/>
<line x1="471" y1="126.5" x2="535.5" y2="302.5" stroke="#fc3434" stroke-width="4"/>
<line x1="540.5" y1="133" x2="481.5" y2="300" stroke="#fc3434" stroke-width="4"/>
<text x="21.3" y="446.3" font-size="12" text-anchor="start" fill="#9a9a9a" font-weight="bold" textLength="558" lengthAdjust="spacingAndGlyphs">Figure 11. Typical Application Schematic With BTL Output and Single-Ended Inputs With Thermal Pad</text>
</svg>
</body></html>
